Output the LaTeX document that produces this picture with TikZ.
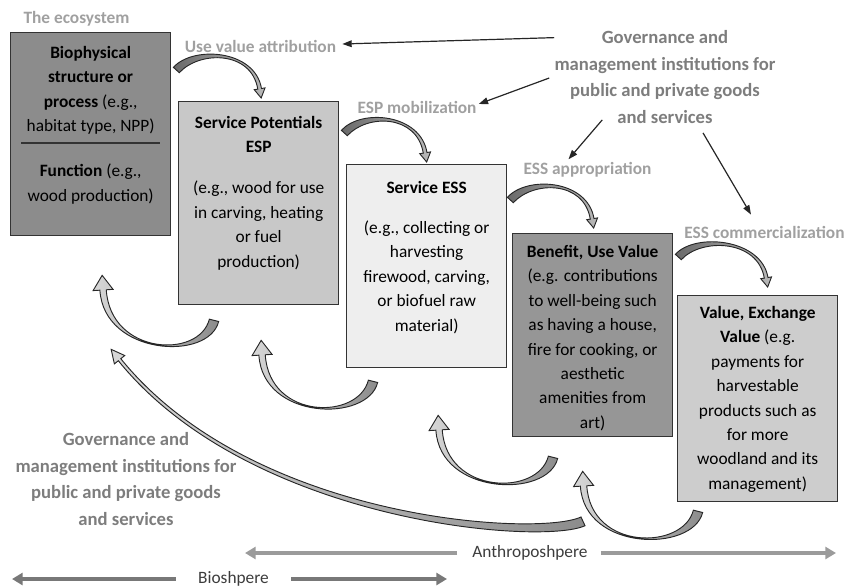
\documentclass[tikz,border=0pt]{standalone}
\usepackage{fontspec}
\setmainfont{Carlito}
\usetikzlibrary{arrows.meta,calc}

\definecolor{labgray}{RGB}{160,160,160}
\definecolor{govgray}{RGB}{125,125,125}
\definecolor{sphtext}{RGB}{60,60,60}
\definecolor{anthrogray}{RGB}{155,155,155}
\definecolor{biogray}{RGB}{120,120,120}
\definecolor{ecofill}{RGB}{140,140,140}
\definecolor{espfill}{RGB}{200,200,200}
\definecolor{essfill}{RGB}{238,238,238}
\definecolor{benfill}{RGB}{150,150,150}
\definecolor{valfill}{RGB}{205,205,205}
\definecolor{ribdark}{RGB}{105,105,105}
\definecolor{riblight}{RGB}{185,185,185}
\definecolor{hookdark}{RGB}{140,140,140}
\definecolor{hooklight}{RGB}{215,215,215}

\tikzset{
  box/.style={draw=black!80, line width=1pt, anchor=north west, minimum width=120pt, minimum height=152.25pt, inner sep=0pt},
  boxtext/.style={anchor=north, align=center, inner sep=0pt, font=\fontsize{13}{18.3}\selectfont},
  steplabel/.style={inner sep=0pt, text=labgray, font=\fontsize{13}{16}\selectfont\bfseries},
  govtext/.style={inner sep=0pt, align=center, text=govgray, font=\fontsize{14}{20}\selectfont\bfseries},
  govarrow/.style={draw=black!85, line width=0.9pt, -{Triangle[length=7pt,width=5pt]}},
  spheretext/.style={inner sep=0pt, text=sphtext, font=\fontsize{13}{16}\selectfont},
  antharrow/.style={draw=anthrogray, line width=3pt, -{Triangle[length=8pt,width=9pt]}},
  bioarrow/.style={draw=biogray, line width=3pt, -{Triangle[length=8pt,width=9pt]}},
  fwdribbon/.style={draw=black!85, line width=0.7pt, left color=ribdark, right color=riblight},
  backribbon/.style={draw=black!85, line width=0.7pt, left color=hooklight, right color=hookdark},
}

% tapered curved block arrow
% #1 style, #2 start, #3 control near start (relative), #4 control near tip (relative), #5 tip,
% #6 half width at start, #7 half width at neck, #8 half width of head, #9 head length
\newcommand{\ribbon}[9]{%
  \coordinate (rs) at #2;
  \coordinate (rt) at #5;
  \coordinate (rc1) at ($(rs)+#3$);
  \coordinate (rc2) at ($(rt)+#4$);
  \coordinate (rb) at ($(rt)!#9!(rc2)$);
  \coordinate (rs1) at ($(rs)!#6!90:(rc1)$);
  \coordinate (rs2) at ($(rs)!#6!-90:(rc1)$);
  \coordinate (rb1) at ($(rb)!#7!-90:(rc2)$);
  \coordinate (rb2) at ($(rb)!#7!90:(rc2)$);
  \coordinate (rh1) at ($(rb)!#8!-90:(rc2)$);
  \coordinate (rh2) at ($(rb)!#8!90:(rc2)$);
  \draw[#1] (rs1) .. controls ($(rc1)+(rs1)-(rs)$) and ($(rc2)+(rb1)-(rb)$) .. (rb1)
    -- (rh1) -- (rt) -- (rh2) -- (rb2)
    .. controls ($(rc2)+(rb2)-(rb)$) and ($(rc1)+(rs2)-(rs)$) .. (rs2) -- cycle;}

\begin{document}
\begin{tikzpicture}[x=0.75pt,y=0.75pt,yscale=-1,xscale=1]
	\useasboundingbox (0,0) rectangle (846,587);
	
	% Boxes
	\node[box, fill=ecofill] (eco) at (10,32) {};
	\node[box, fill=espfill] (esp) at (178,101) {};
	\node[box, fill=essfill] (ess) at (346,164) {};
	\node[box, fill=benfill] (ben) at (512,233) {};
	\node[box, fill=valfill, minimum height=154.5pt] (val) at (677,295) {};
	
	% Box texts
	\node[boxtext] (ecotop) at ($(eco.north)+(0,14)$) {\textbf{Biophysical}\\\textbf{structure or}\\\textbf{process} (e.g.,\\habitat type, NPP)};
	\draw[line width=1.5pt, draw=black!80] ($(eco.north west)+(11,111)$) -- ($(eco.north east)+(-11,111)$);
	\node[boxtext] (ecobot) at ($(eco.north)+(0,132)$) {\textbf{Function} (e.g.,\\wood production)};
	\node[boxtext] (esptxt) at ($(esp.north)+(0,15)$) {\textbf{Service Potentials}\\\textbf{ESP}\\[12.5pt](e.g., wood for use\\in carving, heating\\or fuel\\production)};
	\node[boxtext] (esstxt) at ($(ess.north)+(0,17)$) {\textbf{Service ESS}\\[11.7pt](e.g., collecting or\\harvesting\\firewood, carving,\\or biofuel raw\\material)};
	\node[boxtext] (bentxt) at ($(ben.north)+(0,12)$) {\textbf{Benefit, Use Value}\\(e.g. contributions\\to well-being such\\as having a house,\\fire for cooking, or\\aesthetic\\amenities from\\art)};
	\node[boxtext] (valtxt) at ($(val.north)+(0,11)$) {\textbf{Value, Exchange}\\\textbf{Value} (e.g.\\payments for\\harvestable\\products such as\\for more\\woodland and its\\management)};
	
	% Step labels
	\node[steplabel] (ecolab) at (76.5,19) {The ecosystem};
	\node[steplabel] (uva) at (260.5,46) {Use value attribution};
	\node[steplabel] (espmob) at (417,107) {ESP mobilization};
	\node[steplabel] (essapp) at (587.5,170) {ESS appropriation};
	\node[steplabel, anchor=west] (esscom) at (684,232) {ESS commercialization};
	
	% Governance
	\node[govtext] (govtop) at (665,77) {Governance and\\management institutions for\\public and private goods\\and services};
	\node[govtext] (govbot) at (126,479) {Governance and\\management institutions for\\public and private goods\\and services};
	
	\draw[govarrow] ($(govtop.north west)+(0,7.5)$) -- ($(uva.east)+(6,-2)$);
	\draw[govarrow] ($(govtop.west)+(-5,1)$) -- ($(espmob.east)+(2,-3)$);
	\draw[govarrow] ($(govtop.south west)+(48,-4)$) -- ($(essapp.north)+(-19,-3)$);
	\draw[govarrow] ($(govtop.south)+(38,9)$) -- ($(esscom.north west)+(67,-11)$);
	
	% Forward arrows
	\ribbon{fwdribbon}{($(eco.north east)+(5,38)$)}{(20,-22)}{(-8,-48)}{($(esp.north)+(2.5,-3)$)}{3pt}{1.4pt}{4.1pt}{7pt}
	\ribbon{fwdribbon}{($(esp.north east)+(5,32)$)}{(20,-22)}{(-8,-48)}{($(ess.north)+(0,-2)$)}{3pt}{1.4pt}{4.1pt}{7pt}
	\ribbon{fwdribbon}{($(ess.north east)+(3,36)$)}{(20,-22)}{(-8,-48)}{($(ben.north)+(1,-5)$)}{3pt}{1.4pt}{4.1pt}{7pt}
	\ribbon{fwdribbon}{($(ben.north east)+(5,24)$)}{(20,-22)}{(-8,-48)}{($(val.north)+(10,-8)$)}{3pt}{1.4pt}{4.1pt}{7pt}
	
	% Feedback arrows
	\ribbon{backribbon}{($(esp.south west)+(36,15)$)}{(-10,40)}{(5,80)}{($(eco.south)+(11.5,39)$)}{3.6pt}{2.4pt}{7.5pt}{11pt}
	\ribbon{backribbon}{($(ess.south west)+(27,13)$)}{(-10,40)}{(5,80)}{($(esp.south)+(2.5,35)$)}{3.6pt}{2.4pt}{7.5pt}{11pt}
	\ribbon{backribbon}{($(ben.south west)+(41,20)$)}{(-10,40)}{(5,80)}{($(ess.south)+(11.5,47)$)}{3.6pt}{2.4pt}{7.5pt}{11pt}
	\ribbon{backribbon}{($(val.south west)+(21,9)$)}{(-10,40)}{(5,80)}{($(ben.south)+(-10,34)$)}{3.6pt}{2.4pt}{7.5pt}{11pt}
	\ribbon{backribbon}{($(val.south west)+(-94,19)$)}{(-43,20)}{(140,173)}{($(eco.south)+(20.5,113)$)}{3.6pt}{1.2pt}{5pt}{10pt}
	
	% Spheres
	\node[spheretext] (anthro) at (530,553) {Anthroposhpere};
	\node[spheretext] (bio) at (233.5,579) {Bioshpere};
	\coordinate (anthroleft) at (245,553);
	\coordinate (anthroright) at (836,553);
	\coordinate (bioleft) at (12,579);
	\coordinate (bioright) at (447,579);
	\draw[antharrow] ($(anthro.west)+(-15,0)$) -- (anthroleft);
	\draw[antharrow] ($(anthro.east)+(13,0)$) -- (anthroright);
	\draw[bioarrow] ($(bio.west)+(-22,0)$) -- (bioleft);
	\draw[bioarrow] ($(bio.east)+(22,0)$) -- (bioright);
	
\end{tikzpicture}
\end{document}
